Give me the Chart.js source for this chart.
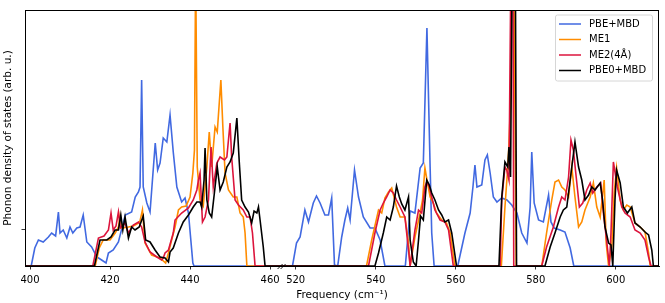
<!DOCTYPE html>
<html>
<head>
<meta charset="utf-8">
<script src="https://cdn.jsdelivr.net/npm/chart.js@4.4.1/dist/chart.umd.min.js"></script>
<style>
html,body{margin:0;padding:0;background:#fff;}
#wrap{width:665px;height:303px;}
</style>
</head>
<body>
<div id="wrap"><canvas id="c" width="665" height="303"></canvas></div>
<script>
// ---- data (frequency in cm^-1, density in arb. units) ----
const seriesNames = ["PBE+MBD", "ME1", "ME2(4Å)", "PBE0+MBD"];
const seriesColors = ["#4169E1", "#FF8C00", "#DC143C", "#000000"];

const pbeMbd = [[398.75,0],[400.3,0],[401.2,18],[402.1,26],[403.3,24],[404.6,29],[405.4,33],[406.4,30],[407.1,54],[407.5,33],[408.3,36],[409.2,28],[410,39],[410.7,33],[411.7,38],[412.5,39],[413.3,51],[414.2,24],[415.4,19],[416.7,9],[417.9,6],[419,3],[419.6,13],[420.8,16],[422.1,24],[423.8,51],[425.4,54],[426.3,69],[427.1,74],[427.5,79],[427.9,186],[428.3,79],[429.2,63],[430,54],[431.3,123],[431.9,96],[432.5,103],[433.3,128],[434.2,124],[435,151],[435.8,114],[436.7,79],[437.9,64],[438.75,68],[439.6,53],[440.7,3],[441,0],
[519.2,0],[520.2,23],[521.1,29],[522.3,56],[523.2,44],[524.4,63],[525.2,70],[526.1,63],[527.3,51],[528.2,51],[529,68],[529.7,1],[530.5,0],[531.5,29],[532.3,46],[533,58],[533.6,46],[534.7,96],[535.7,69],[536.9,49],[538.6,38],[539.8,38],[541.1,26],[542.3,0],[547.4,0],[548.6,55],[549.8,53],[551.1,98],[551.9,103],[552.8,238],[553.6,99],[554,33],[554.6,0],[560.5,0],[562.3,33],[563.6,53],[564.3,79],[564.8,101],[565.3,79],[566.5,81],[567.3,106],[567.9,111],[568.6,93],[569.4,69],[570.3,64],[571.5,68],[572.8,66],[574,61],[575.3,53],[576.5,33],[577.8,23],[578.6,59],[579,114],[579.6,63],[580.7,46],[581.9,44],[583.2,71],[583.8,44],[584.6,38],[586.1,36],[587.3,34],[588.6,18],[589.5,0],[610.8,0]];

const me1 = [[398.75,0],[416.3,0],[417.3,18],[418.3,26],[420,26],[421.3,33],[422.1,39],[422.5,50],[423,38],[424.6,39],[425.8,40],[426.7,42],[427.5,45],[428.1,56],[428.75,23],[430.4,11],[432.5,8],[433.9,3],[434.6,13],[435.4,26],[436.25,39],[437.1,56],[437.9,59],[439,60],[440,69],[440.7,93],[441.1,116],[441.4,300],[441.8,99],[442.5,66],[443.3,60],[444.2,99],[444.8,134],[445.4,99],[446.25,139],[446.8,134],[447.7,186],[448.2,139],[448.75,93],[449.6,76],[450.8,69],[451.7,69],[452.5,53],[453.3,49],[453.75,33],[454.2,0],
[537.7,0],[539,26],[540.7,56],[541.5,53],[542.3,68],[543.2,74],[544,78],[545.2,59],[546.1,49],[547.3,49],[548.2,23],[548.6,0],[549.8,29],[551.1,53],[551.7,66],[552.3,98],[552.9,84],[553.6,69],[554.4,63],[555.2,53],[556.5,46],[557.7,43],[558.6,33],[559.8,0],[571.4,0],[572.3,59],[572.9,93],[573.3,121],[573.7,166],[574,300],[574.5,300],[575.1,0],[581.5,0],[582.7,33],[584,66],[584.8,84],[585.7,86],[586.5,79],[587.3,76],[588.2,69],[589,99],[589.8,69],[590.7,39],[591.5,44],[592.3,56],[593.6,69],[594.4,83],[595.25,59],[596.1,49],[597.1,86],[597.6,23],[598.2,0],[599,19],[599.6,73],[600.2,98],[601.1,66],[601.9,56],[602.75,61],[603.6,59],[604.8,43],[606.1,39],[607.3,34],[608.2,13],[608.6,0],[610.8,0]];

const me2 = [[398.75,0],[415.7,0],[417.1,28],[418.5,30],[419.6,36],[420.25,53],[420.8,36],[421.5,40],[422.1,54],[422.6,38],[423.75,43],[424.6,33],[425.8,41],[427.1,44],[427.9,39],[428.75,24],[430,14],[431.7,9],[432.9,6],[433.3,8],[433.75,13],[434.6,16],[435.8,33],[436.25,46],[437.9,53],[439.6,58],[440.8,66],[441.7,76],[442.1,86],[442.5,93],[443.1,44],[443.75,49],[444.6,66],[445.25,119],[445.8,79],[446.7,103],[447.5,109],[448.6,106],[449.2,109],[450,143],[450.4,109],[451.25,66],[452.1,61],[453.3,56],[454.2,49],[455,49],[455.6,33],[456.25,0],
[538.2,0],[539.8,33],[541.1,56],[541.9,63],[542.75,69],[543.6,76],[544.4,73],[545.2,66],[546.1,59],[547.3,49],[548.2,16],[548.6,0],[549.8,36],[550.7,56],[551.5,53],[552.3,79],[552.75,84],[553.4,79],[554,69],[554.8,56],[556.1,46],[557.3,44],[558.2,36],[559.4,0],[571.1,0],[571.5,66],[572.3,99],[572.75,96],[573.3,86],[573.8,300],[574.3,300],[574.5,0],[581.5,0],[582.7,19],[584.4,39],[585.7,59],[586.5,69],[587.3,66],[588.2,89],[588.8,126],[589.4,116],[590,93],[590.9,59],[591.75,63],[592.75,76],[593.6,83],[594.25,73],[595.25,79],[596.25,83],[596.9,53],[597.7,26],[598.4,0],[598.8,33],[599.4,104],[600.4,79],[601.5,59],[602.3,53],[603.6,49],[604.8,36],[606.1,33],[607.3,26],[608.2,9],[608.8,0],[610.8,0]];

const pbe0Mbd = [[398.75,0],[416.1,0],[417.5,26],[419.2,26],[420.25,29],[421.25,36],[422.1,36],[422.7,51],[423.2,36],[423.75,49],[424.6,28],[425.4,39],[426.25,36],[427.3,39],[427.75,44],[428.3,50],[428.9,26],[430,24],[431.25,16],[432.5,9],[433.75,8],[434.6,4],[435.0,14],[435.8,18],[437.1,33],[438.3,44],[439.6,51],[440.8,59],[441.7,64],[442.5,64],[442.9,59],[443.5,86],[443.75,118],[444.2,66],[444.8,53],[445.4,49],[446.25,79],[446.8,99],[447.5,76],[448.3,84],[449.2,99],[450,104],[450.8,113],[451.7,148],[452.3,104],[452.9,66],[453.75,59],[454.6,54],[455.4,43],[456,55],[456.7,53],[457.1,59],[457.5,46],[458.3,19],[458.75,0],
[539.8,0],[540.7,13],[541.9,33],[542.75,49],[543.6,46],[544.4,59],[545.2,80],[545.9,69],[546.5,62],[547.3,56],[548.2,69],[548.6,26],[549.4,4],[550.1,0],[550.7,26],[551.2,50],[551.9,46],[552.75,86],[553.4,81],[554,73],[554.8,66],[555.7,56],[556.5,51],[557.3,44],[558.2,46],[559,33],[560.2,0],[570.8,0],[571.5,69],[572.3,104],[573,99],[573.3,119],[573.7,89],[574.1,300],[574.9,300],[575.2,0],[582.3,0],[583.6,19],[584.8,33],[586.1,49],[586.9,56],[587.75,59],[588.6,86],[589.8,124],[590.7,99],[591.5,86],[592.3,66],[593.2,71],[594,79],[594.8,76],[596.1,83],[596.7,66],[597.3,39],[598.2,23],[598.8,21],[599.25,0],[599.8,66],[600.2,96],[601.1,83],[601.9,59],[602.9,53],[604,59],[604.8,43],[606.1,39],[607.3,34],[608.2,31],[609,16],[609.4,0],[610.8,0]];

const xTickValues = [400, 420, 440, 460, 520, 540, 560, 580, 600];
const xTickLabels = ["400", "420", "440", "460", "520", "540", "560", "580", "600"];
const xRange = [398.75, 610.8];
const axisBreak = [463.0, 516.6];   // broken-axis gap
const yTickValues = [37];
const yRange = [0, 256];

// ---- broken axis mapping ----
const gap = axisBreak[1] - axisBreak[0];
function T(f){ return f > axisBreak[0] ? f - gap : f; }
function toPoints(arr){ return arr.map(p => ({x: T(p[0]), y: p[1]})); }

const allSeries = [pbeMbd, me1, me2, pbe0Mbd];
const datasets = allSeries.map((s, i) => ({
  label: seriesNames[i],
  data: toPoints(s),
  borderColor: seriesColors[i],
  backgroundColor: seriesColors[i],
  borderWidth: 1.6,
  pointRadius: 0,
  tension: 0,
  fill: false,
  order: allSeries.length - i
}));

const FONT = "'DejaVu Sans', sans-serif";

const framePlugin = {
  id: 'frame',
  afterDatasetsDraw(chart){
    const {ctx, chartArea: a} = chart;
    ctx.save();
    ctx.strokeStyle = '#000';
    ctx.lineWidth = 1;
    ctx.strokeRect(Math.round(a.left)+0.5, Math.round(a.top)+0.5, Math.round(a.right-a.left)-1, Math.round(a.bottom-a.top));
    // axis break marks
    const bx = chart.scales.x.getPixelForValue(axisBreak[0]);
    const by = a.bottom + 0.5;
    ctx.lineWidth = 0.9;
    ctx.beginPath();
    ctx.moveTo(bx - 4.5, by + 2.5); ctx.lineTo(bx + 0.5, by - 2.5);
    ctx.moveTo(bx - 1.5, by + 2.5); ctx.lineTo(bx + 3.5, by - 2.5);
    ctx.stroke();
    ctx.restore();
  },
  afterDraw(chart){
    // legend box
    const {ctx, chartArea: a} = chart;
    ctx.save();
    const bx = a.right - 104, by = a.top + 4.5, bw = 97, bh = 66;
    ctx.fillStyle = 'rgba(255,255,255,0.85)';
    ctx.strokeStyle = '#d6d6d6';
    ctx.lineWidth = 1;
    ctx.beginPath();
    if (ctx.roundRect) ctx.roundRect(bx+0.5, by+0.5, bw, bh, 2); else ctx.rect(bx+0.5, by+0.5, bw, bh);
    ctx.fill(); ctx.stroke();
    ctx.font = "10px " + FONT;
    ctx.textBaseline = 'middle';
    ctx.textAlign = 'left';
    seriesNames.forEach((name, i) => {
      const y = by + 9.5 + i * 15.5;
      ctx.strokeStyle = seriesColors[i];
      ctx.lineWidth = 1.5;
      ctx.beginPath();
      ctx.moveTo(bx + 4, y); ctx.lineTo(bx + 26, y);
      ctx.stroke();
      ctx.fillStyle = '#000';
      ctx.fillText(name, bx + 34, y);
    });
    ctx.restore();
  }
};

new Chart(document.getElementById('c'), {
  type: 'line',
  data: { datasets },
  options: {
    responsive: false,
    animation: false,
    devicePixelRatio: 1,
    layout: { padding: { top: 10, right: 6, left: 0, bottom: 0 } },
    plugins: { legend: { display: false }, tooltip: { enabled: false } },
    scales: {
      x: {
        type: 'linear',
        min: T(xRange[0]),
        max: T(xRange[1]),
        afterBuildTicks(scale){ scale.ticks = xTickValues.map(v => ({value: T(v)})); },
        afterFit(scale){ scale.height = 37; },
        ticks: {
          autoSkip: false,
          maxRotation: 0,
          padding: 5,
          color: '#000',
          font: { size: 10, family: FONT },
          callback: (v, i) => xTickLabels[i]
        },
        grid: { display: true, drawOnChartArea: false, drawTicks: true, tickLength: 3.5, color: '#000', tickWidth: 0.8 },
        border: { display: true, color: '#000', width: 1 },
        title: { display: true, text: 'Frequency (cm⁻¹)', color: '#000', font: { size: 10.5, family: FONT }, padding: { top: 0, bottom: 1 } }
      },
      y: {
        type: 'linear',
        min: yRange[0],
        max: yRange[1],
        afterBuildTicks(scale){ scale.ticks = yTickValues.map(v => ({value: v})); },
        afterFit(scale){ scale.width = 25; },
        ticks: { display: true, callback: () => '', padding: 0, font: { size: 1 } },
        grid: { display: true, drawOnChartArea: false, drawTicks: true, tickLength: 3.5, color: '#000', tickWidth: 0.8 },
        border: { display: true, color: '#000', width: 1 },
        title: { display: true, text: 'Phonon density of states (arb. u.)', color: '#000', font: { size: 10.5, family: FONT }, padding: { top: 2.2, bottom: 0 } }
      }
    }
  },
  plugins: [framePlugin]
});
</script>
</body>
</html>
